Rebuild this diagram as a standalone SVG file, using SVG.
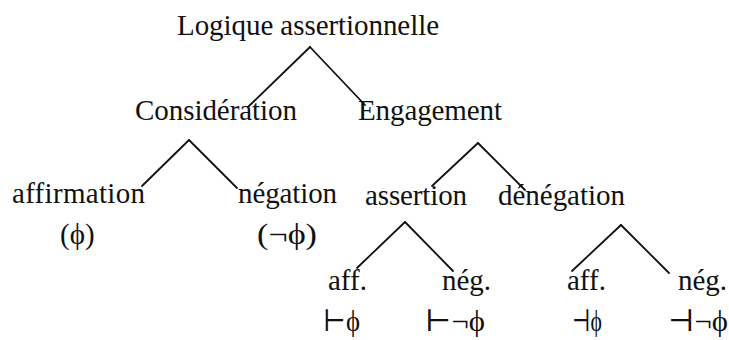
<svg xmlns="http://www.w3.org/2000/svg" width="729" height="340" viewBox="0 0 729 340">
<style>
text{font-family:"Liberation Serif","DejaVu Serif",serif;font-size:29px;fill:#111}
.sym{font-size:30px}
.c line{stroke:#111;stroke-width:1.8;stroke-linecap:round}
</style>
<rect width="729" height="340" fill="#fff"/>
<g class="c" id="connectors">
<line x1="310" y1="47" x2="248" y2="107"/>
<line x1="310" y1="47" x2="365" y2="105"/>
<line x1="189" y1="140" x2="142" y2="186"/>
<line x1="189" y1="140" x2="237" y2="188"/>
<line x1="478" y1="143" x2="432" y2="186"/>
<line x1="478" y1="143" x2="525" y2="190"/>
<line x1="405" y1="222" x2="357" y2="268"/>
<line x1="405" y1="222" x2="453" y2="271"/>
<line x1="621" y1="225" x2="572" y2="271"/>
<line x1="621" y1="225" x2="669" y2="273"/>
</g>
<g id="n-logique"><text x="177" y="35" textLength="262">Logique assertionnelle</text></g>
<g id="n-consideration"><text x="135" y="120" textLength="162">Considération</text></g>
<g id="n-engagement"><text x="358" y="120" textLength="144">Engagement</text></g>
<g id="n-affirmation"><text x="12" y="203" textLength="133">affirmation</text><text x="60" y="244">(ϕ)</text></g>
<g id="n-negation"><text x="238" y="203" textLength="99">négation</text><text x="257" y="244" textLength="60" lengthAdjust="spacingAndGlyphs">(¬ϕ)</text></g>
<g id="n-assertion"><text x="365" y="205" textLength="102">assertion</text></g>
<g id="n-denegation"><text x="498" y="205" textLength="127">dénégation</text></g>
<g id="n-aff1"><text x="328" y="290">aff.</text><text class="sym" x="323" y="331" textLength="37" lengthAdjust="spacingAndGlyphs">⊢ϕ</text></g>
<g id="n-neg1"><text x="442" y="290">nég.</text><text class="sym" x="425" y="331" textLength="60" lengthAdjust="spacingAndGlyphs">⊢¬ϕ</text></g>
<g id="n-aff2"><text x="567" y="290">aff.</text><text class="sym" x="572" y="331" textLength="30" lengthAdjust="spacingAndGlyphs">⊣ϕ</text></g>
<g id="n-neg2"><text x="678" y="290">nég.</text><text class="sym" x="668" y="331" textLength="60" lengthAdjust="spacingAndGlyphs">⊣¬ϕ</text></g>
</svg>
